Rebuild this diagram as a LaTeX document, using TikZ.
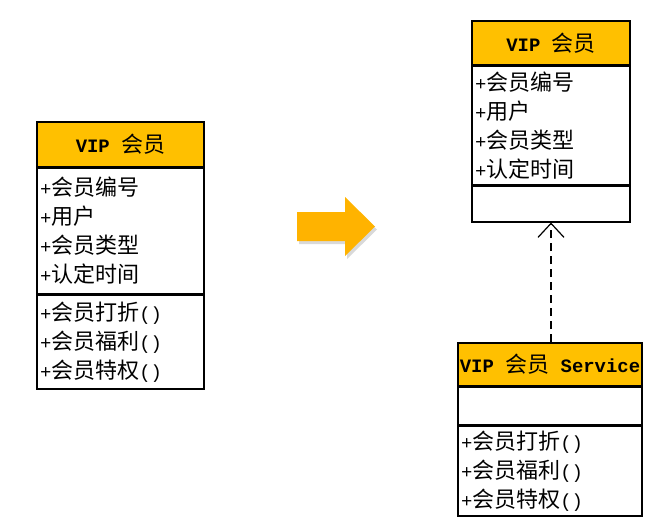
\documentclass[tikz,border=0pt]{standalone}
\usepackage{fontspec}
\setmainfont{Liberation Mono}[Scale=0.86]
\newfontfamily\cjk{Noto Sans CJK SC}
\usepackage{xcolor}
\usetikzlibrary{arrows.meta,positioning,shadows}
\definecolor{umlgold}{HTML}{FFC000}
\definecolor{arrgold}{HTML}{FFB300}
\newcommand\zh[1]{{\cjk #1}}

\begin{document}
\begin{tikzpicture}[x=1pt, y=-1pt,
  head/.style={draw, line width=1.5pt, fill=umlgold, anchor=north,
               inner sep=0pt, font=\fontsize{22}{29}\selectfont},
  sect/.style={draw, line width=1.5pt, fill=white, align=left,
               inner xsep=3pt, inner ysep=0pt, font=\fontsize{22}{29}\selectfont},
  dep/.style={dash pattern=on 8pt off 5pt, line width=1.2pt,
              -{Straight Barb[length=14pt, width=26pt]}}]
  \useasboundingbox (0,0) rectangle (672,525);

  % before: one class
  \node[head, minimum width=167pt, minimum height=45pt] (vt) at (120.5,121) {\textbf{VIP} \zh{会员}};
  \node[sect, text width=161pt, minimum height=125pt, below=0pt of vt] (va)
    {+\zh{会员编号}\\+\zh{用户}\\+\zh{会员类型}\\+\zh{认定时间}};
  \node[sect, text width=161pt, minimum height=94pt, below=0pt of va] (vm)
    {+\zh{会员打折}()\\+\zh{会员福利}()\\+\zh{会员特权}()};

  % big arrow
  \fill[arrgold, drop shadow={shadow xshift=2pt, shadow yshift=-3pt, opacity=0.3}]
    (297,212) -- (345,212) -- (345,197) -- (375,226.5) -- (345,256)
    -- (345,241) -- (297,241) -- cycle;

  % after: data class
  \node[head, minimum width=158pt, minimum height=44pt] (dt) at (551,20) {\textbf{VIP} \zh{会员}};
  \node[sect, text width=152pt, minimum height=118pt, below=0pt of dt] (da)
    {+\zh{会员编号}\\+\zh{用户}\\+\zh{会员类型}\\+\zh{认定时间}};
  \node[sect, text width=152pt, minimum height=36pt, below=0pt of da] (dm) {};

  % after: service class
  \node[head, minimum width=184pt, minimum height=43pt] (st) at (550,342) {\textbf{VIP} \zh{会员} \textbf{Service}};
  \node[sect, text width=178pt, minimum height=37pt, below=0pt of st] (sa) {};
  \node[sect, text width=178pt, minimum height=90pt, below=0pt of sa] (sm)
    {+\zh{会员打折}()\\+\zh{会员福利}()\\+\zh{会员特权}()};

  \draw[dep] (st.north -| dm.south) -- (dm.south);
\end{tikzpicture}
\end{document}
